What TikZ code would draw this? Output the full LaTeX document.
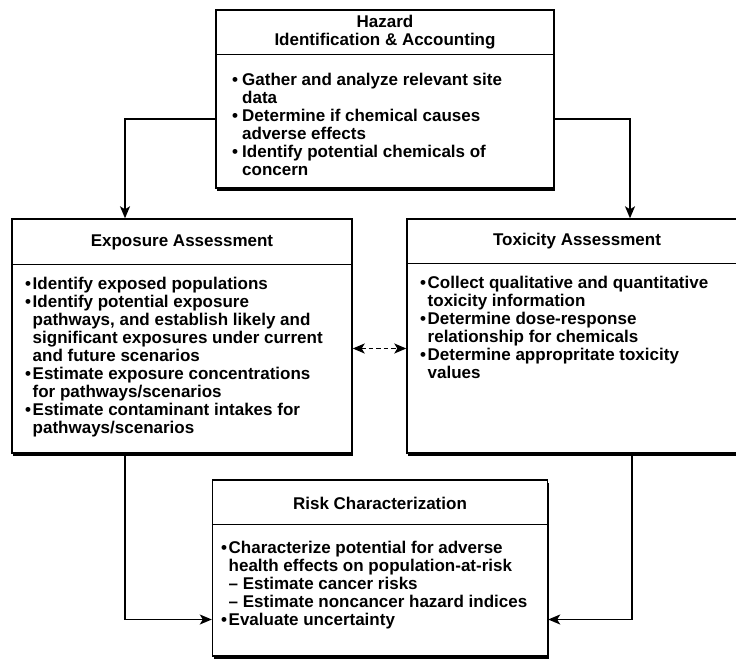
\documentclass[tikz,border=0pt]{standalone}
\usepackage{fontspec}
\setmainfont{Liberation Sans}
\usetikzlibrary{arrows.meta,shadows}
\newcommand{\bu}{\makebox[7.5pt][l]{•}}
\newcommand{\ii}{\hspace*{7.5pt}}
\newcommand{\hbu}{\makebox[10pt][l]{•}}
\newcommand{\hii}{\hspace*{10pt}}
\begin{document}
\begin{tikzpicture}[x=1pt,y=-1pt,
  panel/.style={draw, line width=1.4pt, fill=white, inner sep=0pt,
    drop shadow={shadow xshift=1pt, shadow yshift=-2.8pt, fill=black, opacity=1}},
  ttl/.style={font=\fontsize{17}{18}\selectfont\bfseries, align=center, inner sep=0pt},
  body/.style={font=\fontsize{17}{18}\selectfont\bfseries, align=left, inner sep=0pt, anchor=north west},
  tip/.tip={Stealth[length=12pt,width=10pt,inset=3pt]},
  conn/.style={line width=1.4pt, -tip},
  dconn/.style={line width=1.4pt, dash pattern=on 4.5pt off 3pt, tip-tip}
]
\useasboundingbox (0,0) rectangle (736,660);
\clip (0,0) rectangle (736,660);
\fill[white] (0,0) rectangle (736,660);

% boxes
\node[panel, minimum width=338pt, minimum height=178pt] (haz) at (385,99) {};
\node[panel, minimum width=340pt, minimum height=234pt] (exp) at (182,336) {};
\node[panel, minimum width=340pt, minimum height=234pt] (tox) at (577,336) {};
\node[panel, minimum width=335pt, minimum height=176pt] (risk) at (380,568) {};

% dividers
\draw[line width=1.2pt] ([yshift=-45pt]haz.north west) -- ([yshift=-45pt]haz.north east);
\draw[line width=1.2pt] ([yshift=-46pt]exp.north west) -- ([yshift=-46pt]exp.north east);
\draw[line width=1.2pt] ([yshift=-45pt]tox.north west) -- ([yshift=-45pt]tox.north east);
\draw[line width=1.2pt] ([yshift=-45pt]risk.north west) -- ([yshift=-45pt]risk.north east);

% titles
\node[ttl] (hazt) at (385,32) {Hazard\\Identification \& Accounting};
\node[ttl] (expt) at (182,242) {Exposure Assessment};
\node[ttl] (toxt) at (577,241) {Toxicity Assessment};
\node[ttl] (riskt) at (380,503) {Risk Characterization};

% bodies
\node[body] (hazb) at (232,73) {\hbu Gather and analyze relevant site\\
\hii data\\
\hbu Determine if chemical causes\\
\hii adverse effects\\
\hbu Identify potential chemicals of\\
\hii concern};

\node[body] (expb) at (25,277) {\bu Identify exposed populations\\
\bu Identify potential exposure\\
\ii pathways, and establish likely and\\
\ii significant exposures under current\\
\ii and future scenarios\\
\bu Estimate exposure concentrations\\
\ii for pathways/scenarios\\
\bu Estimate contaminant intakes for\\
\ii pathways/scenarios};

\node[body] (toxb) at (420,276) {\bu Collect qualitative and quantitative\\
\ii toxicity information\\
\bu Determine dose-response\\
\ii relationship for chemicals\\
\bu Determine appropritate toxicity\\
\ii values};

\node[body] (riskb) at (221,541) {\bu Characterize potential for adverse\\
\ii health effects on population-at-risk\\
\ii -- Estimate cancer risks\\
\ii -- Estimate noncancer hazard indices\\
\bu Evaluate uncertainty};

% connectors
\draw[conn] ([yshift=-20pt]haz.west) -| ([xshift=-57pt]exp.north);
\draw[conn] ([yshift=-20pt]haz.east) -| ([xshift=53pt]tox.north);
\draw[conn] ([xshift=-57pt]exp.south) |- ([yshift=-51.5pt]risk.west);
\draw[conn] ([xshift=55pt]tox.south) |- ([yshift=-51.5pt]risk.east);
\draw[dconn] ([yshift=-12.5pt]exp.east) -- ([yshift=-12.5pt]tox.west);
\end{tikzpicture}
\end{document}
